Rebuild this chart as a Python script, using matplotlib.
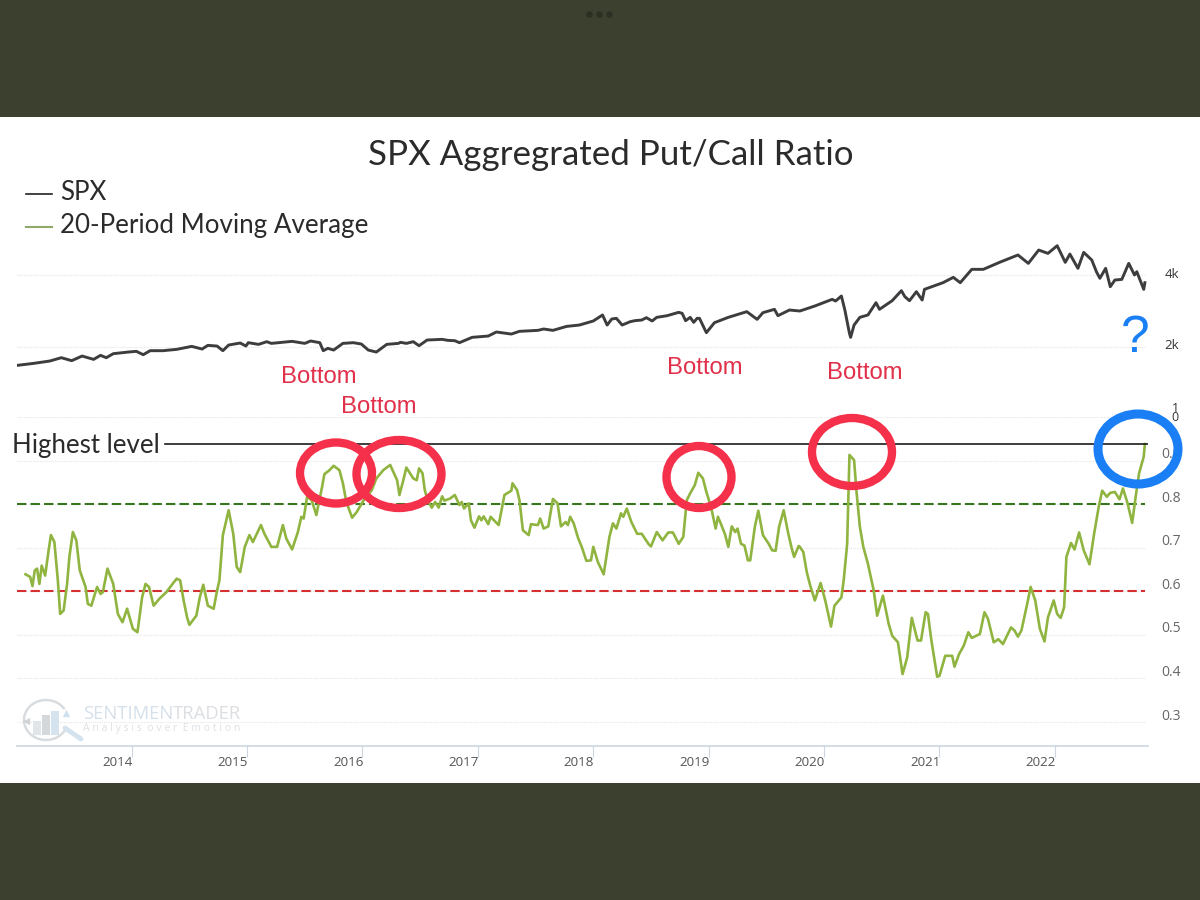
import matplotlib
matplotlib.use('Agg')
import matplotlib.pyplot as plt
from matplotlib.patches import Ellipse, Rectangle, Arc

#SPX closes, decimal year / index level
spxYears = [2013.01, 2013.15, 2013.29, 2013.39, 2013.48, 2013.57, 2013.67, 2013.73, 2013.78, 2013.84, 2013.97,
	2014.04, 2014.10, 2014.16, 2014.27, 2014.39, 2014.52, 2014.61, 2014.66, 2014.74, 2014.79, 2014.84, 2014.94, 2014.99,
	2015.01, 2015.10, 2015.17, 2015.21, 2015.39, 2015.50, 2015.55, 2015.63, 2015.66, 2015.70, 2015.75, 2015.83, 2015.92, 2015.99,
	2016.05, 2016.12, 2016.21, 2016.31, 2016.33, 2016.38, 2016.44, 2016.49, 2016.56, 2016.69, 2016.74, 2016.80, 2016.84, 2016.95,
	2017.09, 2017.16, 2017.29, 2017.36, 2017.52, 2017.57, 2017.65, 2017.77, 2017.88,
	2018.00, 2018.08, 2018.12, 2018.16, 2018.20, 2018.25, 2018.32, 2018.36, 2018.42, 2018.46, 2018.51, 2018.55, 2018.64, 2018.74, 2018.77, 2018.80, 2018.84, 2018.87, 2018.90, 2018.92, 2018.98,
	2019.05, 2019.17, 2019.33, 2019.42, 2019.47, 2019.57, 2019.60, 2019.70, 2019.79, 2019.92,
	2020.07, 2020.10, 2020.15, 2020.18, 2020.22, 2020.23, 2020.26, 2020.31, 2020.38, 2020.45, 2020.48, 2020.59, 2020.67, 2020.70, 2020.74, 2020.80, 2020.85, 2020.87,
	2021.03, 2021.12, 2021.18, 2021.28, 2021.38, 2021.52, 2021.68, 2021.77, 2021.86, 2021.94,
	2022.02, 2022.09, 2022.13, 2022.20, 2022.25, 2022.32, 2022.36, 2022.39, 2022.44, 2022.48, 2022.52, 2022.58, 2022.64, 2022.69, 2022.71, 2022.77, 2022.78]
spxValues = [1670, 1702, 1741, 1798, 1747, 1827, 1769, 1839, 1798, 1869, 1899,
	1912, 1851, 1924, 1924, 1949, 2006, 1955, 2026, 2012, 1924, 2032, 2072, 2013,
	2079, 2045, 2099, 2065, 2106, 2065, 2113, 2079, 1924, 1968, 1936, 2065, 2079, 2052,
	1936, 1899, 2045, 2065, 2086, 2065, 2099, 2019, 2133, 2147, 2126, 2119, 2079, 2189,
	2217, 2305, 2260, 2320, 2342, 2373, 2342, 2434, 2466,
	2564, 2717, 2466, 2614, 2631, 2466, 2547, 2572, 2588, 2648, 2564, 2656, 2699, 2788, 2761, 2572, 2656, 2531, 2631, 2631, 2290,
	2523, 2656, 2806, 2605, 2779, 2870, 2699, 2851, 2824, 2964,
	3161, 3110, 3265, 2851, 2275, 2189, 2466, 2656, 2717, 3061, 2870, 3120, 3437, 3244, 3120, 3404, 3140, 3482,
	3713, 3910, 3713, 4225, 4225, 4520, 4854, 4476, 5092, 4930,
	5310, 4520, 4898, 4266, 4978, 4622, 4130, 3874, 4266, 3572, 3810, 3834, 4476, 4000, 4130, 3482, 3713]

#Put/call 20-period average
ratioYears = [2013.08, 2013.12, 2013.14, 2013.16, 2013.18, 2013.20, 2013.22, 2013.25, 2013.28, 2013.30, 2013.33, 2013.36, 2013.38, 2013.41, 2013.44, 2013.46, 2013.49,
	2013.52, 2013.55, 2013.60, 2013.62, 2013.65, 2013.70, 2013.73, 2013.75, 2013.79, 2013.84, 2013.88, 2013.92, 2013.96,
	2014.01, 2014.05, 2014.09, 2014.12, 2014.15, 2014.19, 2014.24, 2014.30, 2014.36, 2014.39, 2014.42, 2014.45, 2014.48, 2014.50, 2014.56, 2014.59, 2014.62, 2014.66, 2014.71, 2014.74, 2014.76, 2014.79, 2014.84, 2014.88, 2014.91, 2014.94, 2014.98,
	2015.02, 2015.05, 2015.12, 2015.15, 2015.21, 2015.26, 2015.31, 2015.34, 2015.39, 2015.44, 2015.47, 2015.49, 2015.52, 2015.56, 2015.60, 2015.65, 2015.67, 2015.71, 2015.75, 2015.80, 2015.83, 2015.86, 2015.91, 2015.95,
	2016.01, 2016.08, 2016.12, 2016.18, 2016.24, 2016.30, 2016.32, 2016.35, 2016.38, 2016.44, 2016.47, 2016.49, 2016.52, 2016.54, 2016.56, 2016.60, 2016.63, 2016.66, 2016.69, 2016.71, 2016.76, 2016.80, 2016.84, 2016.86, 2016.88, 2016.92, 2016.94, 2016.97,
	2017.01, 2017.03, 2017.05, 2017.09, 2017.11, 2017.15, 2017.18, 2017.23, 2017.29, 2017.30, 2017.34, 2017.36, 2017.39, 2017.44, 2017.46, 2017.52, 2017.54, 2017.57, 2017.61, 2017.65, 2017.69, 2017.72, 2017.76, 2017.78, 2017.80, 2017.83, 2017.87, 2017.90, 2017.94, 2017.98,
	2018.00, 2018.04, 2018.09, 2018.14, 2018.17, 2018.20, 2018.24, 2018.26, 2018.29, 2018.33, 2018.38, 2018.42, 2018.48, 2018.50, 2018.55, 2018.60, 2018.65, 2018.69, 2018.74, 2018.78, 2018.81, 2018.84, 2018.88, 2018.91, 2018.95, 2018.98,
	2019.02, 2019.06, 2019.08, 2019.11, 2019.14, 2019.17, 2019.20, 2019.23, 2019.25, 2019.28, 2019.31, 2019.34, 2019.36, 2019.40, 2019.43, 2019.47, 2019.52, 2019.55, 2019.58, 2019.61, 2019.65, 2019.69, 2019.72, 2019.74, 2019.78, 2019.79, 2019.82, 2019.85, 2019.88, 2019.92, 2019.97,
	2020.01, 2020.06, 2020.09, 2020.15, 2020.17, 2020.20, 2020.22, 2020.26, 2020.28, 2020.31, 2020.34, 2020.38, 2020.43, 2020.46, 2020.51, 2020.56, 2020.59, 2020.64, 2020.68, 2020.72, 2020.76, 2020.81, 2020.84, 2020.88, 2020.90, 2020.93, 2020.98,
	2021.00, 2021.05, 2021.11, 2021.13, 2021.17, 2021.21, 2021.25, 2021.28, 2021.32, 2021.35, 2021.39, 2021.42, 2021.47, 2021.51, 2021.55, 2021.62, 2021.65, 2021.68, 2021.71, 2021.76, 2021.79, 2021.83, 2021.87, 2021.91, 2021.94, 2021.99,
	2022.02, 2022.05, 2022.08, 2022.10, 2022.14, 2022.17, 2022.21, 2022.25, 2022.30, 2022.34, 2022.38, 2022.41, 2022.45, 2022.48, 2022.52, 2022.56, 2022.59, 2022.63, 2022.67, 2022.70, 2022.73, 2022.77, 2022.78]
ratioValues = [.639, .633, .612, .648, .652, .617, .659, .636, .694, .729, .713, .625, .548, .556, .617, .679, .736,
	.717, .648, .610, .571, .567, .610, .594, .598, .652, .617, .548, .529, .560,
	.514, .506, .586, .617, .610, .567, .583, .598, .619, .629, .625, .579, .540, .523, .544, .586, .615, .567, .560, .602, .625, .729, .786, .732, .656, .644, .702,
	.729, .713, .752, .732, .702, .702, .752, .721, .696, .736, .771, .767, .817, .809, .775, .840, .869, .877, .888, .878, .848, .805, .769, .782,
	.809, .832, .859, .878, .890, .855, .821, .851, .884, .859, .855, .882, .871, .832, .813, .792, .805, .792, .818, .808, .813, .821, .798, .805, .790, .802, .763, .746,
	.772, .763, .772, .754, .771, .760, .752, .821, .831, .848, .832, .809, .740, .729, .754, .752, .767, .744, .749, .812, .802, .749, .759, .752, .771, .756, .721, .702, .670, .671,
	.702, .667, .639, .725, .756, .744, .779, .771, .790, .759, .732, .732, .708, .703, .736, .717, .735, .735, .709, .725, .809, .825, .844, .872, .859, .828,
	.794, .744, .771, .752, .732, .702, .749, .736, .744, .709, .705, .671, .671, .748, .785, .729, .709, .694, .693, .748, .786, .732, .698, .679, .704, .702, .690, .644, .613, .579, .619,
	.579, .519, .567, .586, .625, .709, .913, .901, .832, .748, .702, .663, .602, .544, .590, .525, .498, .483, .410, .448, .539, .487, .487, .552, .548, .487, .404,
	.406, .452, .452, .427, .456, .475, .506, .493, .498, .502, .552, .537, .483, .490, .479, .517, .510, .496, .510, .571, .610, .579, .514, .485, .540, .579,
	.548, .539, .563, .679, .711, .696, .735, .694, .662, .732, .794, .831, .817, .826, .828, .811, .836, .802, .757, .817, .871, .909, .938]

yearTicks = [2014, 2015, 2016, 2017, 2018, 2019, 2020, 2021, 2022]
spxTicks = [2000, 4000]
spxLabels = ['2k', '4k']
ratioGrid = [0.3, 0.4, 0.5, 0.6, 0.7, 0.8, 0.9, 1.0]
ratioLabels = ['0.3', '0.4', '0.5', '0.6', '0.7', '0.8', '0.9', '1']
highestLevel = 0.938
upperBand = 0.8
lowerBand = 0.6

W, H = 1200, 900
sansLight = ['Lato', 'DejaVu Sans']
gridCol = '#e6e6e6'

def axesAt(left, top, right, bottom):
	return fig.add_axes([left / W, 1 - bottom / H, (right - left) / W, (bottom - top) / H])

fig = plt.figure(figsize=(12, 9), dpi=100, facecolor='#3c402f')
fig.add_artist(Rectangle((0, 1 - 783 / H), 1, (783 - 117) / H, transform=fig.transFigure, fc='white', ec='none', zorder=-1))

xStart, xEnd = 2013.006, 2022.807

#price panel, log scale
axP = axesAt(17, 240, 1148, 405)
axP.set_yscale('log')
axP.set_xlim(xStart, xEnd)
axP.set_ylim(1138, 5611)
axP.hlines(spxTicks, xStart, 2022.78, colors=gridCol, lw=0.8, linestyles=(0, (1, 1)))
axP.plot(spxYears, spxValues, color='#3d3d40', lw=2.1, solid_joinstyle='round')

#ratio panel
axR = axesAt(17, 417, 1148, 746)
axR.set_xlim(xStart, xEnd)
axR.set_ylim(0.245, 1.0)
axR.hlines(ratioGrid, xStart, 2022.78, colors=gridCol, lw=0.8, linestyles=(0, (1, 1)))
axR.hlines(upperBand, xStart, 2022.78, colors='#35761f', lw=1.5, linestyles=(0, (4.5, 2)))
axR.hlines(lowerBand, xStart, 2022.78, colors='#d5302f', lw=1.5, linestyles=(0, (4.5, 2)))
axR.plot(ratioYears, ratioValues, color='#8fb43f', lw=1.9, solid_joinstyle='round')
axR.plot([2014.29, xEnd], [highestLevel, highestLevel], color='#1c1c1c', lw=1.2)

for ax in [axP, axR]:
	ax.patch.set_alpha(0)
	for s in ax.spines.values():
		s.set_visible(False)
	ax.set_yticks([])
	ax.minorticks_off()
	ax.set_xticks([])

axR.spines['bottom'].set_visible(True)
axR.spines['bottom'].set_color('#ccd6e0')
axR.spines['bottom'].set_linewidth(1.2)
axR.set_xticks(yearTicks)
axR.set_xticklabels([])
axR.tick_params(axis='x', length=8, width=0.8, color='#ccd6e0')

for yr in yearTicks:
	axR.annotate(str(yr), xy=(yr, 0), xycoords=('data', 'axes fraction'), xytext=(1, -17), textcoords='offset pixels',
		ha='right', va='center', fontsize=9.6, color='#555555', family='Open Sans')
for v, lab in zip(spxTicks, spxLabels):
	axP.annotate(lab, xy=(1, v), xycoords=('axes fraction', 'data'), xytext=(24, 1), textcoords='offset pixels',
		ha='center', va='center', fontsize=9.5, color='#333333', family='Open Sans')
for v, lab in zip(ratioGrid, ratioLabels):
	if lab == '1':
		axR.annotate(lab, xy=(1, v), xycoords=('axes fraction', 'data'), xytext=(27, 8), textcoords='offset pixels',
			ha='center', va='center', fontsize=9, color='#333333', family='Open Sans')
	else:
		axR.annotate(lab, xy=(1, v), xycoords=('axes fraction', 'data'), xytext=(23, 6), textcoords='offset pixels',
			ha='center', va='center', fontsize=10, color='#666666', family='Open Sans')
axR.annotate('0', xy=(1, 1.0), xycoords='axes fraction', xytext=(27, 0), textcoords='offset pixels',
	ha='center', va='center', fontsize=9, color='#333333', family='Open Sans')

#hand drawn notes on top, positioned in figure pixels
top = fig.add_axes([0, 0, 1, 1], zorder=5)
top.set_xlim(0, W)
top.set_ylim(H, 0)
top.axis('off')

top.text(611, 155, 'SPX Aggregrated Put/Call Ratio', ha='center', va='center', fontsize=25.1, color='#2b2b2b', family=sansLight)
top.plot([26, 52], [194, 194], color='#222222', lw=1.2)
top.plot([26, 52], [227, 227], color='#8fa968', lw=1.5)
top.text(60, 192, 'SPX', ha='left', va='center', fontsize=18.7, color='#2b2b2b', family=sansLight)
top.text(60, 225, '20-Period Moving Average', ha='left', va='center', fontsize=18.7, color='#2b2b2b', family=sansLight)
top.text(12, 445, 'Highest level', ha='left', va='center', fontsize=18.6, color='#2b2b2b', family=sansLight)

for x, y in [(319, 377), (379, 407), (705, 368), (865, 373)]:
	top.text(x, y, 'Bottom', ha='center', va='center', fontsize=17.2, color='#e0304a', family='Liberation Sans')
top.text(1135, 338, '?', ha='center', va='center', fontsize=37, color='#1a7ef5', family='Liberation Sans')

ringRed = '#f5304a'
for cx, cy, w, h in [(336, 473, 72, 61), (399, 474, 85, 68), (699, 477, 65, 62), (852, 452, 80, 68)]:
	top.add_patch(Ellipse((cx, cy), w, h, fc='none', ec=ringRed, lw=6))
top.add_patch(Ellipse((1138, 449), 80, 70, fc='none', ec='#1a7ef5', lw=6.5))

#vendor mark
top.add_patch(Arc((46, 720), 44, 40, theta1=20, theta2=330, ec='#d9dcde', lw=1.8))
for x, h, c in [(37, 14, '#e2e5e8'), (46, 20, '#d5d8da'), (55, 24, '#d5e3ee')]:
	top.add_patch(Rectangle((x - 4, 735 - h), 8, h, fc=c, ec='none'))
top.scatter([26], [721], marker='<', s=28, color='#d0d3d6', linewidths=0)
top.scatter([66], [713], marker='^', s=28, color='#cfe0ee', linewidths=0)
top.plot([65, 81], [728, 739], color='#d5e3ee', lw=3.5, solid_capstyle='round')
brand = top.text(83, 714, 'SENTIMEN', ha='left', va='center', fontsize=13.3, color='#d5e0ea', family='Open Sans')
top.annotate('TRADER', xy=(1, 0.5), xycoords=brand, ha='left', va='center', fontsize=13.3, color='#dcdfe2', family='Open Sans')
top.text(83, 729, 'A n a l y s i s  o v e r  E m o t i o n', ha='left', va='center', fontsize=7.6, color='#dde1e5', family='Open Sans')

#three dots at the top edge
top.scatter([589, 599, 609], [14, 14, 14], s=22, color='#2c2f22', linewidths=0)

plt.savefig('out.png', dpi=100, facecolor=fig.get_facecolor())
